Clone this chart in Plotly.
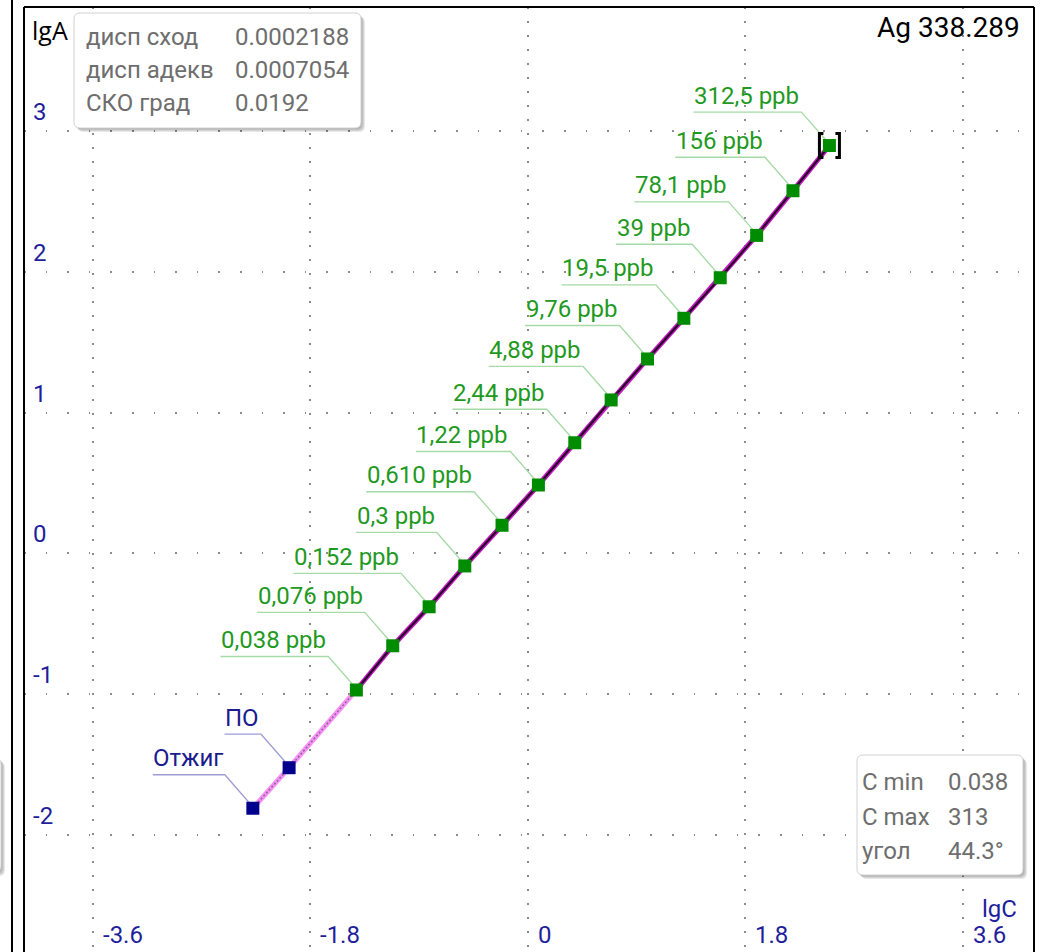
import math
import plotly.graph_objects as go

# ---- data -------------------------------------------------------------
# calibration standards (ppb) and measured lgA
conc_ppb = [0.038, 0.076, 0.152, 0.3, 0.610, 1.22, 2.44, 4.88, 9.76, 19.5, 39, 78.1, 156, 312.5]
conc_labels = ["0,038 ppb", "0,076 ppb", "0,152 ppb", "0,3 ppb", "0,610 ppb", "1,22 ppb",
               "2,44 ppb", "4,88 ppb", "9,76 ppb", "19,5 ppb", "39 ppb", "78,1 ppb",
               "156 ppb", "312,5 ppb"]
lgA_std = [-0.970, -0.656, -0.379, -0.089, 0.200, 0.486, 0.786, 1.090, 1.381, 1.670,
           1.958, 2.259, 2.576, 2.897]

# blank samples
blank_labels = ["Отжиг", "ПО"]
blank_lgC = [-2.277, -1.977]
blank_lgA = [-1.810, -1.522]

x_ticks = [-3.6, -1.8, 0, 1.8, 3.6]
x_tick_text = ["-3.6", "-1.8", "0", "1.8", "3.6"]
y_ticks = [-2, -1, 0, 1, 2, 3]
y_tick_text = ["-2", "-1", "0", "1", "2", "3"]

stats_rows = [("дисп сход", "0.0002188"), ("дисп адекв", "0.0007054"), ("СКО град", "0.0192")]
range_rows = [("C min", "0.038"), ("C max", "313"), ("угол", "44.3°")]
title_text = "Ag 338.289"

lgC_std = [math.log10(c) for c in conc_ppb]

# ---- styling ----------------------------------------------------------
W, H = 1045, 952
ML, MR, MT, MB = 24, 11, 7, 0
FONT = "Roboto"
GREEN = "#008c00"
GREEN_TXT = "#1f9a1f"
GREEN_LEAD = "#a6daa6"
NAVY = "#00008c"
NAVY_TXT = "#1c1c8e"
NAVY_LEAD = "#9e9ed6"
TICK_BLUE = "#1f1f9c"
BOX_TXT = "#6e6e6e"
LABEL_SIZE = 24

# approximate Roboto advance widths (em) for sizing the label underlines
ROBOTO_EM = {**{d: 0.5615 for d in "0123456789"}, ",": 0.1965, ".": 0.2573, " ": 0.2476,
             "p": 0.5605, "b": 0.5605, "П": 0.713, "О": 0.687, "т": 0.4995, "ж": 0.756,
             "и": 0.562, "г": 0.374}


def text_px(s, size):
    return size * sum(ROBOTO_EM.get(ch, 0.55) for ch in s)


def px(x, y):
    """absolute page pixel -> offset relative to plot-area top-left (y up)"""
    return f"{x - ML:.1f},{MT - y:.1f}"


def rrect(x0, y0, x1, y1, r):
    return (f"M {px(x0 + r, y0)} L {px(x1 - r, y0)} Q {px(x1, y0)} {px(x1, y0 + r)} "
            f"L {px(x1, y1 - r)} Q {px(x1, y1)} {px(x1 - r, y1)} L {px(x0 + r, y1)} "
            f"Q {px(x0, y1)} {px(x0, y1 - r)} L {px(x0, y0 + r)} Q {px(x0, y0)} {px(x0 + r, y0)} Z")


def page_shape(path, **kw):
    return dict(type="path", xref="paper", yref="paper", xsizemode="pixel", ysizemode="pixel",
                xanchor=0, yanchor=1, path=path, **kw)


fig = go.Figure()

# connecting line: blanks -> first standard (light), standards (dark)
low_x = blank_lgC + [lgC_std[0]]
low_y = blank_lgA + [lgA_std[0]]
fig.add_trace(go.Scatter(x=low_x, y=low_y, mode="lines",
                         line=dict(color="#ff8cff", width=5), hoverinfo="skip"))
fig.add_trace(go.Scatter(x=low_x, y=low_y, mode="lines",
                         line=dict(color="#7a7a7a", width=1.6, dash="2px,2px"), hoverinfo="skip"))
fig.add_trace(go.Scatter(x=lgC_std, y=lgA_std, mode="lines",
                         line=dict(color="#c21cc2", width=5), hoverinfo="skip"))
fig.add_trace(go.Scatter(x=lgC_std, y=lgA_std, mode="lines",
                         line=dict(color="#2a002a", width=2.2), hoverinfo="skip"))

# points
fig.add_trace(go.Scatter(x=lgC_std, y=lgA_std, mode="markers",
                         marker=dict(symbol="square", size=13, color=GREEN, line=dict(width=0))))
fig.add_trace(go.Scatter(x=blank_lgC, y=blank_lgA, mode="markers",
                         marker=dict(symbol="square", size=13, color=NAVY, line=dict(width=0))))

shapes = []
annotations = []


def add_label(xv, yv, text, txt_color, lead_color):
    w = text_px(text, LABEL_SIZE)
    path = f"M {-(31 + w):.1f},33.5 L -28,33.5 L -4,6"
    shapes.append(dict(type="path", xref="x", yref="y", xsizemode="pixel", ysizemode="pixel",
                       xanchor=xv, yanchor=yv, path=path, layer="between",
                       line=dict(color=lead_color, width=1.3)))
    annotations.append(dict(x=xv, y=yv, xref="x", yref="y", text=text, showarrow=False,
                            xanchor="right", yanchor="middle", xshift=-28, yshift=50,
                            font=dict(family=FONT, size=LABEL_SIZE, color=txt_color)))


for xv, yv, t in zip(lgC_std, lgA_std, conc_labels):
    add_label(xv, yv, t, GREEN_TXT, GREEN_LEAD)
for xv, yv, t in zip(blank_lgC, blank_lgA, blank_labels):
    add_label(xv, yv, t, NAVY_TXT, NAVY_LEAD)

# selection brackets around the top standard
for side in (-1, 1):
    shapes.append(dict(type="path", xref="x", yref="y", xsizemode="pixel", ysizemode="pixel",
                       xanchor=lgC_std[-1], yanchor=lgA_std[-1], layer="above",
                       path=f"M {side * 6},12 L {side * 10},12 L {side * 10},-12 L {side * 6},-12",
                       line=dict(color="black", width=3)))

# info boxes with soft shadow
for (x0, y0, x1, y1) in [(74, 13, 361, 128), (857, 755, 1023, 875), (-40, 758, 1, 872)]:
    for k in (4, 3, 2, 1):
        shapes.append(page_shape(rrect(x0 + k, y0 + k, x1 + k, y1 + k, 6),
                                 fillcolor="rgba(0,0,0,0.09)", line=dict(width=0), layer="above"))
    shapes.append(page_shape(rrect(x0, y0, x1, y1, 6), fillcolor="white",
                             line=dict(color="#d2d2d2", width=1), layer="above"))

# frame
shapes += [
    dict(type="line", xref="paper", yref="paper", x0=0, x1=0, y0=0, y1=1,
         line=dict(color="black", width=2), layer="above"),
    dict(type="line", xref="paper", yref="paper", x0=0, x1=1, y0=1, y1=1,
         line=dict(color="black", width=2), layer="above"),
    dict(type="line", xref="paper", yref="paper", x0=1, x1=1, y0=0, y1=1,
         line=dict(color="black", width=2), layer="above"),
    page_shape(f"M {px(12, 0)} L {px(12, H)}", line=dict(color="black", width=2), layer="above"),
]


def page_text(x, yc, text, size=24, color=BOX_TXT, family=FONT, anchor="left"):
    annotations.append(dict(xref="paper", yref="paper", x=0 if anchor == "left" else 1, y=1,
                            xshift=(x - ML) if anchor == "left" else (x - (W - MR)),
                            yshift=-(yc - MT), xanchor=anchor, yanchor="middle",
                            text=text, showarrow=False,
                            font=dict(family=family, size=size, color=color)))


for i, (lab, val) in enumerate(stats_rows):
    yc = 37 + i * 32.8
    page_text(84, yc, lab)
    page_text(233, yc, val)
for i, (lab, val) in enumerate(range_rows):
    yc = 782 + i * 34.5
    page_text(860, yc, lab)
    page_text(946, yc, val)

page_text(1022, 27, title_text, size=28, color="black", anchor="right")
page_text(30, 30, "lgA", size=25, color="black", family="Open Sans")
page_text(1019, 909, "lgC", size=24, color=TICK_BLUE, anchor="right")

# tick labels
for v, t in zip(y_ticks, y_tick_text):
    annotations.append(dict(xref="paper", yref="y", x=0, y=v, xshift=7, yshift=19,
                            xanchor="left", yanchor="middle", text=t, showarrow=False,
                            font=dict(family=FONT, size=24, color=TICK_BLUE)))
for v, t in zip(x_ticks, x_tick_text):
    annotations.append(dict(xref="x", yref="paper", x=v, y=0, xshift=8, yshift=17,
                            xanchor="left", yanchor="middle", text=t, showarrow=False,
                            font=dict(family=FONT, size=24, color=TICK_BLUE)))

fig.update_layout(
    width=W, height=H,
    margin=dict(l=ML, r=MR, t=MT, b=MB, pad=0),
    paper_bgcolor="white", plot_bgcolor="white",
    showlegend=False,
    shapes=shapes, annotations=annotations,
    xaxis=dict(range=[-4.171, 4.188], tickvals=x_ticks, showticklabels=False, ticks="",
               showgrid=True, gridcolor="#8c8c8c", gridwidth=1.6, griddash="1.6px,12.4px",
               zeroline=False, showline=False, fixedrange=True),
    yaxis=dict(range=[-2.831, 3.881], tickvals=y_ticks, showticklabels=False, ticks="",
               showgrid=True, gridcolor="#8c8c8c", gridwidth=1.6, griddash="1.6px,20px",
               zeroline=False, showline=False, fixedrange=True),
)

fig.write_html("out.html")
